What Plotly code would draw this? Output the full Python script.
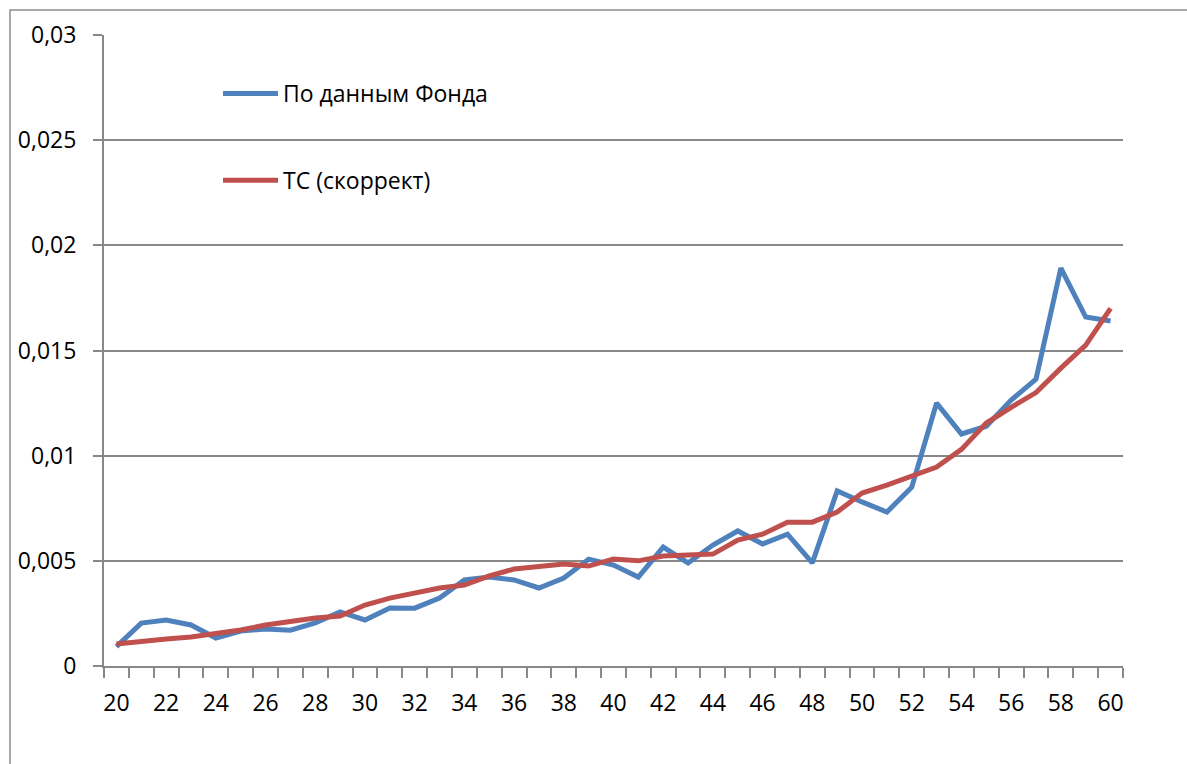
import plotly.graph_objects as go

ages = list(range(20, 61))

fund = [0.00092, 0.00204, 0.00219, 0.00195, 0.00133, 0.00166, 0.00176, 0.00170, 0.00205, 0.00257,
        0.00219, 0.00276, 0.00275, 0.00323, 0.00409, 0.00423, 0.00409, 0.00371, 0.00418, 0.00508,
        0.00480, 0.00423, 0.00565, 0.00490, 0.00575, 0.00642, 0.00580, 0.00627, 0.00490, 0.00832,
        0.00780, 0.00732, 0.00850, 0.01250, 0.01103, 0.01140, 0.01264, 0.01364, 0.01892, 0.01659,
        0.01640]

tc = [0.00105, 0.00119, 0.00128, 0.00138, 0.00152, 0.00171, 0.00195, 0.00214, 0.00228, 0.00238,
      0.00290, 0.00323, 0.00347, 0.00371, 0.00385, 0.00428, 0.00461, 0.00470, 0.00485, 0.00475,
      0.00509, 0.00500, 0.00523, 0.00528, 0.00532, 0.00599, 0.00627, 0.00684, 0.00684, 0.00732,
      0.00822, 0.00860, 0.00903, 0.00946, 0.01030, 0.01155, 0.01230, 0.01300, 0.01416, 0.01526,
      0.01700]

y_ticks = [0, 0.005, 0.01, 0.015, 0.02, 0.025, 0.03]
y_labels = ["0", "0,005", "0,01", "0,015", "0,02", "0,025", "0,03"]
x_ticks = list(range(20, 61, 2))

FONT = "Open Sans"
GRID = "#888888"

fig = go.Figure()
fig.add_trace(go.Scatter(x=ages, y=fund, mode="lines", name="По данным Фонда",
                         legendgroup="a", line=dict(color="#4F81BD", width=5)))
fig.add_trace(go.Scatter(x=ages, y=tc, mode="lines", name="ТС (скоррект)",
                         legendgroup="b", line=dict(color="#C0504D", width=5)))

W, H = 1187, 764
L, R, T, B = 104, 1123, 35, 666
pw, ph = R - L, B - T

def px_x(p):
    return (p - L) / pw

def px_y(p):
    return (B - p) / ph

fig.update_layout(
    width=W, height=H, autosize=False,
    margin=dict(l=L, r=W - R, t=T, b=H - B),
    paper_bgcolor="white", plot_bgcolor="white",
    font=dict(family=FONT, size=23, color="#000000"),
    showlegend=True,
    legend=dict(x=px_x(218), y=px_y(72), xanchor="left", yanchor="top",
                bgcolor="rgba(0,0,0,0)", tracegroupgap=54, itemwidth=55,
                font=dict(family=FONT, size=23, color="#000000")),
    xaxis=dict(range=[19.5, 60.5], tickmode="array", tickvals=x_ticks,
               ticktext=[str(v) for v in x_ticks], ticks="", showgrid=False,
               zeroline=False, showline=True, linecolor=GRID, linewidth=2,
               ticklabelstandoff=15,
               minor=dict(tickmode="linear", tick0=19.5, dtick=1, ticks="outside",
                          ticklen=10, tickcolor=GRID, tickwidth=2, showgrid=False)),
    yaxis=dict(range=[0, 0.03], tickmode="array", tickvals=y_ticks, ticktext=y_labels,
               ticks="outside", ticklen=9, tickcolor=GRID, tickwidth=2,
               showgrid=True, gridcolor=GRID, gridwidth=2, zeroline=False,
               showline=True, linecolor=GRID, linewidth=2, ticklabelstandoff=12),
    shapes=[dict(type="rect", xref="paper", yref="paper",
                 x0=px_x(10), x1=px_x(1260), y0=px_y(820), y1=px_y(10),
                 line=dict(color="#8c8c8c", width=1.5), fillcolor="rgba(0,0,0,0)",
                 layer="below")],
)

fig.write_html("out.html", config={"displayModeBar": False},
               post_script="document.body.style.margin='0';document.body.style.overflow='hidden';")
